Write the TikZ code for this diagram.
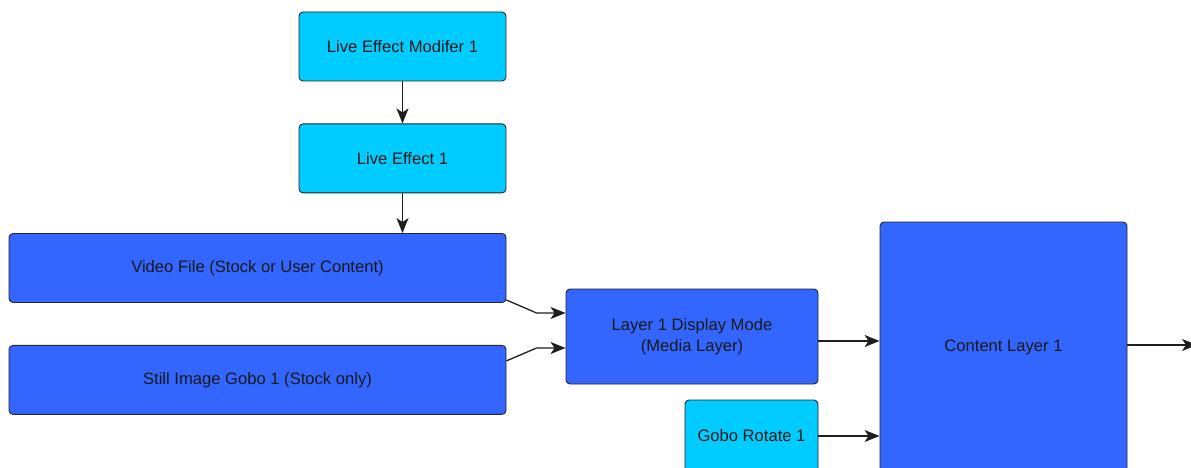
\documentclass[tikz,border=0pt]{standalone}
\usepackage{fontspec}
\setmainfont{Liberation Sans}
\usetikzlibrary{arrows.meta,positioning}

\definecolor{fxcyan}{RGB}{0,204,255}
\definecolor{mediablue}{RGB}{51,102,255}
\definecolor{wire}{RGB}{30,30,30}

\begin{document}
\begin{tikzpicture}[x=1pt,y=-1pt,->,>={Stealth[length=15pt,width=12pt,inset=4pt]},
                    line width=1.3pt,draw=wire,font=\fontsize{16.6}{21}\selectfont]
  \tikzstyle{fxbox}=[draw=black!85,line width=0.9pt,rounded corners=4pt,fill=fxcyan,
                     text=black!90,minimum width=207pt,minimum height=69pt]
  \tikzstyle{mediabox}=[fxbox,fill=mediablue]

  \useasboundingbox (0,0) rectangle (1191,468);

  \node[fxbox] (lem) at (402.5,46.5)        {Live Effect Modifer 1};
  \node[fxbox] (le) [below=42pt of lem]     {Live Effect 1};
  \node[mediabox,minimum width=497pt] (video) at (257.5,268)   {Video File (Stock or User Content)};
  \node[mediabox,minimum width=497pt] (still) [below=42pt of video] {Still Image Gobo 1 (Stock only)};
  \node[mediabox,minimum width=252pt,minimum height=95pt,align=center] (ldm) at (692,336.5)
        {Layer 1 Display Mode\\(Media Layer)};
  \node[mediabox,minimum width=247pt,minimum height=250pt] (content) at (1003.5,347) {Content Layer 1};
  \node[fxbox,minimum width=133pt,minimum height=72pt] (gobo) at (751.5,436) {Gobo Rotate 1};

  \coordinate (ldmout) at ([yshift=-4.5pt]ldm.east);
  \coordinate (out) at (1197,345);

  \path (lem) edge (le)
        (le.south) edge (le.south |- video.north)
        (ldmout) edge (ldmout -| content.west)
        (gobo.east) edge (gobo.east -| content.west)
        (content.east |- out) edge (out);

  \draw ([yshift=-32pt]video.east) -- ([xshift=-29pt,yshift=23.5pt]ldm.west) -- ([yshift=23.5pt]ldm.west);
  \draw ([yshift=19pt]still.east) -- ([xshift=-29pt,yshift=-11.5pt]ldm.west) -- ([yshift=-11.5pt]ldm.west);
\end{tikzpicture}
\end{document}
